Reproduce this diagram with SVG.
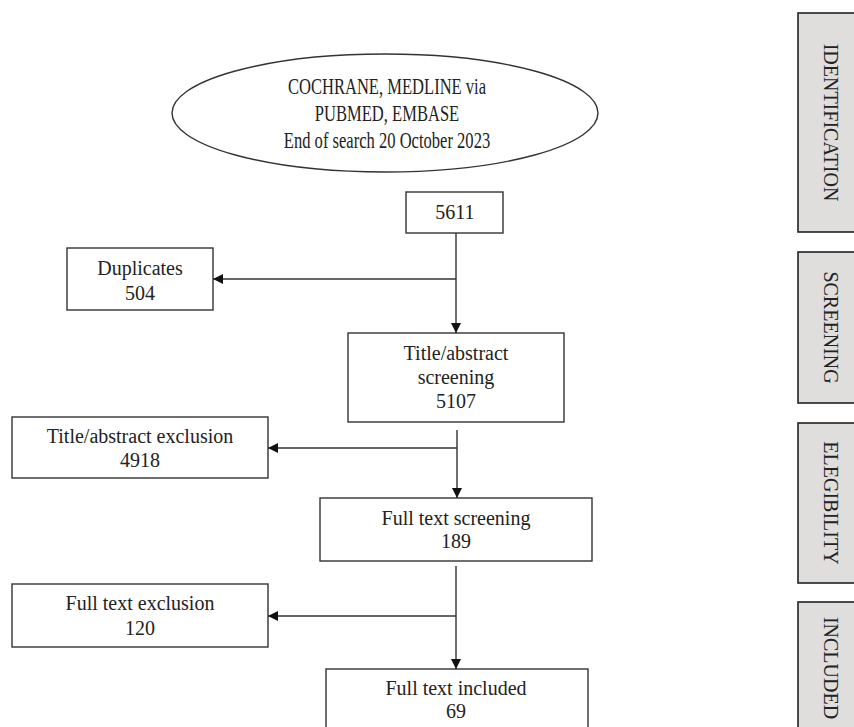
<svg xmlns="http://www.w3.org/2000/svg" width="854" height="727" viewBox="0 0 854 727">
<defs>
<marker id="arr" viewBox="0 0 10 10" refX="10" refY="5" markerWidth="10" markerHeight="10" markerUnits="userSpaceOnUse" orient="auto">
<path d="M0,0 L10,5 L0,10 z" fill="#111"/>
</marker>
</defs>
<style>
.box{fill:#fff;stroke:#333;stroke-width:1.4}
.side{fill:#e0dddd;stroke:#222;stroke-width:1.6}
.t{font-family:"Liberation Serif","Times New Roman",serif;font-size:20px;fill:#222;text-anchor:middle}
.te{font-size:23px}
.ln{stroke:#333;stroke-width:1.4;fill:none}
</style>
<rect width="854" height="727" fill="#fff"/>
<g id="search">
<ellipse cx="385" cy="113" rx="213" ry="59" class="box"/>
<g transform="translate(387,0) scale(0.72,1)">
<text class="t te" x="0" y="94">COCHRANE, MEDLINE via</text>
<text class="t te" x="0" y="121">PUBMED, EMBASE</text>
<text class="t te" x="0" y="148">End of search 20 October 2023</text>
</g>
</g>
<g id="n5611">
<rect x="406" y="192" width="97" height="41" class="box"/>
<text class="t" x="455" y="219">5611</text>
</g>
<g id="duplicates">
<rect x="67" y="248" width="146" height="62" class="box"/>
<text class="t" x="140" y="275">Duplicates</text>
<text class="t" x="140" y="300">504</text>
</g>
<g id="tascreen">
<rect x="348" y="333" width="216" height="89" class="box"/>
<text class="t" x="456" y="360">Title/abstract</text>
<text class="t" x="456" y="384">screening</text>
<text class="t" x="456" y="408">5107</text>
</g>
<g id="taexcl">
<rect x="12" y="417" width="256" height="61" class="box"/>
<text class="t" x="140" y="443">Title/abstract exclusion</text>
<text class="t" x="140" y="467">4918</text>
</g>
<g id="ftscreen">
<rect x="320" y="498" width="272" height="63" class="box"/>
<text class="t" x="456" y="525">Full text screening</text>
<text class="t" x="456" y="548">189</text>
</g>
<g id="ftexcl">
<rect x="12" y="584" width="256" height="63" class="box"/>
<text class="t" x="140" y="610">Full text exclusion</text>
<text class="t" x="140" y="635">120</text>
</g>
<g id="ftincl">
<rect x="326" y="669" width="262" height="70" class="box"/>
<text class="t" x="456" y="695">Full text included</text>
<text class="t" x="456" y="718">69</text>
</g>
<g id="connectors">
<line x1="456" y1="233" x2="456" y2="333" class="ln" marker-end="url(#arr)"/>
<line x1="456" y1="279" x2="213" y2="279" class="ln" marker-end="url(#arr)"/>
<line x1="457" y1="430" x2="457" y2="498" class="ln" marker-end="url(#arr)"/>
<line x1="457" y1="448" x2="268" y2="448" class="ln" marker-end="url(#arr)"/>
<line x1="456" y1="566" x2="456" y2="669" class="ln" marker-end="url(#arr)"/>
<line x1="456" y1="616" x2="268" y2="616" class="ln" marker-end="url(#arr)"/>
</g>
<g id="identification">
<rect x="798" y="13" width="70" height="219" class="side"/>
<text class="t" transform="translate(824,122.5) rotate(90)">IDENTIFICATION</text>
</g>
<g id="screening">
<rect x="798" y="252" width="70" height="151" class="side"/>
<text class="t" transform="translate(824,327.5) rotate(90)">SCREENING</text>
</g>
<g id="elegibility">
<rect x="798" y="423" width="70" height="160" class="side"/>
<text class="t" transform="translate(824,503) rotate(90)">ELEGIBILITY</text>
</g>
<g id="included">
<rect x="798" y="602" width="70" height="140" class="side"/>
<text class="t" transform="translate(824,668) rotate(90)">INCLUDED</text>
</g>
</svg>
